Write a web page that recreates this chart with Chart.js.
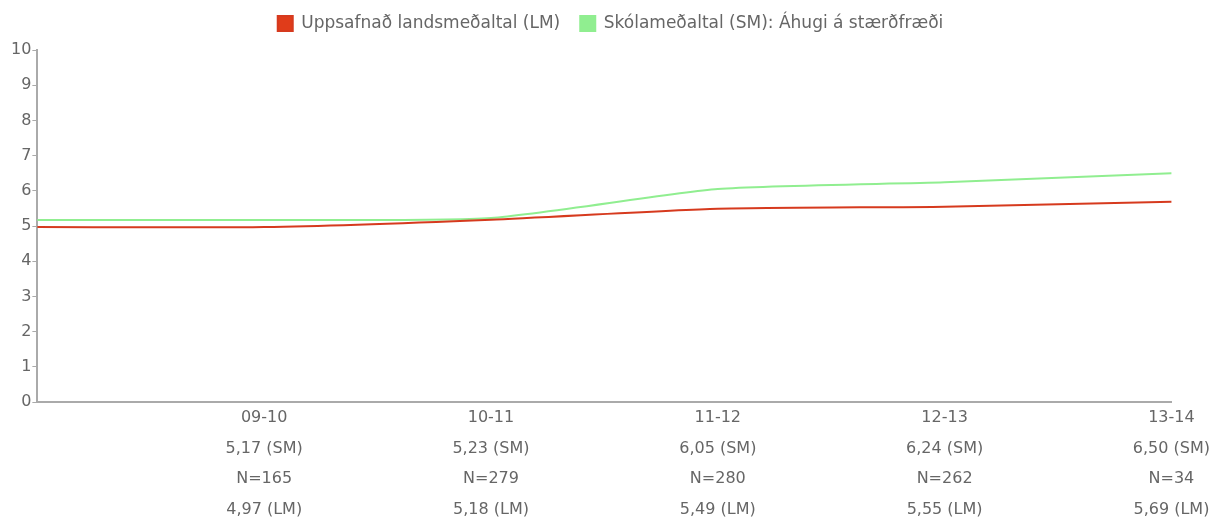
<!DOCTYPE html>
<html>
<head>
<meta charset="utf-8">
<script src="https://cdn.jsdelivr.net/npm/chart.js@4"></script>
<style>
  html, body { margin: 0; padding: 0; background: #fff; }
  #wrap { width: 1211px; height: 526px; position: relative; }
</style>
</head>
<body>
<div id="wrap"><canvas id="c"></canvas></div>
<script>
const categories = ['', '09-10', '10-11', '11-12', '12-13', '13-14'];
const schoolAvg = [5.17, 5.17, 5.23, 6.05, 6.24, 6.50];
const nationalAvg = [4.97, 4.97, 5.18, 5.49, 5.55, 5.69];
const counts = [null, 165, 279, 280, 262, 34];
const yTicks = [0, 1, 2, 3, 4, 5, 6, 7, 8, 9, 10];
const seriesNames = ['Uppsafnað landsmeðaltal (LM)', 'Skólameðaltal (SM): Áhugi á stærðfræði'];

const fmt = v => v.toFixed(2).replace('.', ',');
const FONT = 'DejaVu Sans';
const GRAY = '#666';

const legendSpacer = {
  id: 'legendSpacer',
  beforeInit(chart) {
    const origFit = chart.legend.fit;
    chart.legend.fit = function () {
      origFit.call(this);
      this.height += 8;
    };
  }
};

new Chart(document.getElementById('c'), {
  type: 'line',
  data: {
    labels: categories,
    datasets: [
      {
        label: seriesNames[0],
        data: nationalAvg,
        borderColor: '#d63a1e',
        backgroundColor: '#e03c1a',
        borderWidth: 2,
        pointRadius: 0,
        tension: 0.2,
        fill: false
      },
      {
        label: seriesNames[1],
        data: schoolAvg,
        borderColor: '#90ee90',
        backgroundColor: '#90ee90',
        borderWidth: 2,
        pointRadius: 0,
        tension: 0.2,
        fill: false
      }
    ]
  },
  plugins: [legendSpacer],
  options: {
    responsive: true,
    maintainAspectRatio: false,
    animation: false,
    layout: { padding: { left: 10, right: 0, top: -5, bottom: 0 } },
    plugins: {
      legend: {
        position: 'top',
        labels: {
          boxWidth: 15,
          boxHeight: 15,
          color: GRAY,
          font: { family: FONT, size: 17 },
          padding: 20
        }
      },
      tooltip: { enabled: false }
    },
    scales: {
      x: {
        offset: false,
        grid: { display: true, drawOnChartArea: false, drawTicks: false },
        border: { display: true, color: '#aaa', width: 2 },
        ticks: {
          color: GRAY,
          font: { family: FONT, size: 16, lineHeight: 1.906 },
          padding: 1,
          maxRotation: 0,
          autoSkip: false,
          callback: function (value, index) {
            if (!categories[index]) return '';
            return [
              categories[index],
              fmt(schoolAvg[index]) + ' (SM)',
              'N=' + counts[index],
              fmt(nationalAvg[index]) + ' (LM)'
            ];
          }
        }
      },
      y: {
        min: yTicks[0],
        max: yTicks[yTicks.length - 1],
        afterBuildTicks: axis => { axis.ticks = yTicks.map(v => ({ value: v })); },
        grid: { display: true, drawOnChartArea: false, drawTicks: true, tickLength: 5, color: '#aaa' },
        border: { display: true, color: '#aaa', width: 2 },
        ticks: {
          color: GRAY,
          font: { family: FONT, size: 16 },
          padding: 1
        }
      }
    }
  }
});
</script>
</body>
</html>
